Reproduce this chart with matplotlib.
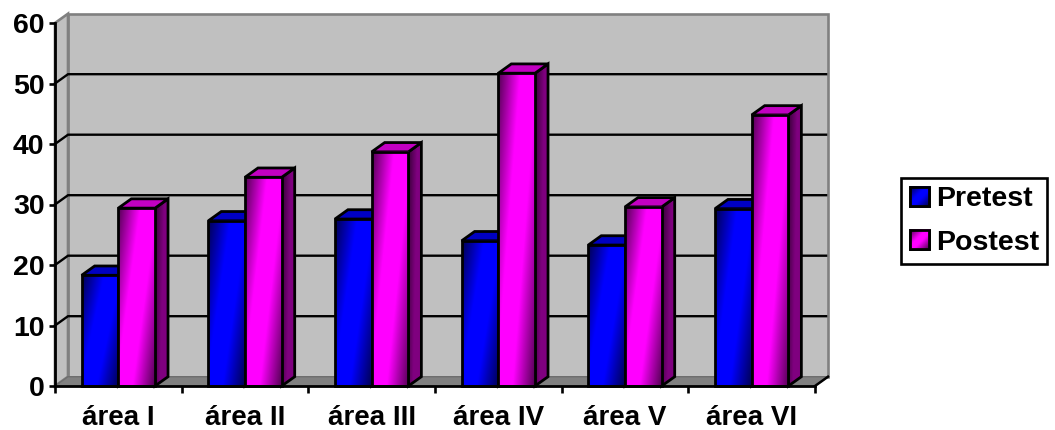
import numpy as np
import matplotlib
matplotlib.use("Agg")
import matplotlib.pyplot as plt
from matplotlib.patches import Polygon, Patch

categories = ["área I", "área II", "área III", "área IV", "área V", "área VI"]
pretest = [18.3, 27.3, 27.6, 24.0, 23.3, 29.3]
postest = [29.4, 34.5, 38.7, 51.7, 29.6, 44.8]
y_ticks = [0, 10, 20, 30, 40, 50, 60]
series_names = ["Pretest", "Postest"]

BLUE = np.array([0, 0, 255]) / 255
MAGENTA = np.array([255, 0, 255]) / 255
plt.rcParams["font.family"] = ["Liberation Sans", "DejaVu Sans"]

W, H = 1055, 430
fig = plt.figure(figsize=(W / 100, H / 100), dpi=100, facecolor="white")
ax = fig.add_axes([55 / W, (H - 386) / H, 760 / W, 363 / H])
ax.set_xlim(0, 6)
ax.set_ylim(0, 60)

DX = 13 / (760 / 6)   # depth in x units
DY = 9.3 / (363 / 60)  # depth in y units
HALF = 36.7 / (760 / 6)
GRAY = "#808080"
WALL = "#c0c0c0"
OUTLINE = 2.0


def front_rgb(base, nx=40, ny=60, lo=0.33):
    u, v = np.meshgrid(np.linspace(0, 1, nx), np.linspace(0, 1, ny))
    s = 0.6 * u + 0.4 * v
    k = np.clip(np.minimum(s / 0.36, (1 - s) / 0.36), 0, 1)
    k = lo + (1 - lo) * k
    return k[..., None] * base


def side_rgb(base, nx=16, ny=40):
    u, v = np.meshgrid(np.linspace(0, 1, nx), np.linspace(0, 1, ny))
    s = np.clip(0.75 * u + 0.25 * v, 0, 1) / 0.55
    k = 0.22 + (0.5 - 0.22) * np.clip(s, 0, 1)
    return k[..., None] * base


def draw_bar(l, r, top, base, z):
    ec = dict(edgecolor="black", linewidth=OUTLINE, joinstyle="miter", clip_on=False)
    # side face
    side = [(r, 0), (r + DX, DY), (r + DX, top + DY), (r, top)]
    poly = Polygon(side, closed=True, facecolor="none", zorder=z + 0.2, **ec)
    ax.add_patch(poly)
    im = ax.imshow(side_rgb(base), extent=[r, r + DX, 0, top + DY], origin="upper",
                   aspect="auto", interpolation="bilinear", zorder=z + 0.1)
    im.set_clip_path(Polygon(side, closed=True, transform=ax.transData))
    # top face
    ax.add_patch(Polygon([(l, top), (l + DX, top + DY), (r + DX, top + DY), (r, top)],
                         closed=True, facecolor=base * 0.76, zorder=z + 0.2, **ec))
    # front face
    ax.imshow(front_rgb(base), extent=[l, r, 0, top], origin="upper", aspect="auto",
              interpolation="bilinear", zorder=z + 0.3, clip_on=False)
    ax.add_patch(Polygon([(l, 0), (l, top), (r, top), (r, 0)], closed=True,
                         facecolor="none", zorder=z + 0.4, **ec))


# walls and floor
ax.add_patch(Polygon([(DX, DY), (DX, 60 + DY), (6 + DX, 60 + DY), (6 + DX, DY)],
                     closed=True, facecolor=WALL, edgecolor=GRAY, linewidth=1.9,
                     joinstyle="miter", clip_on=False, zorder=1))
ax.add_patch(Polygon([(0, 0), (0, 60), (DX, 60 + DY), (DX, DY)], closed=True,
                     facecolor=WALL, edgecolor=GRAY, linewidth=1.9,
                     joinstyle="miter", clip_on=False, zorder=1.1))
ax.add_patch(Polygon([(0, 0), (DX, DY), (6 + DX, DY), (6, 0)], closed=True,
                     facecolor=GRAY, edgecolor="#6e6e6e", linewidth=1.0,
                     clip_on=False, zorder=1.2))
ax.plot([6, 6 + DX], [0, DY], color="black", lw=1.8, clip_on=False, zorder=1.3)

# gridlines on the walls
for t in y_ticks[1:-1]:
    ax.plot([0, DX, 6 + DX - 0.015], [t, t + DY, t + DY], color="black", lw=1.7,
            clip_on=False, zorder=1.5, solid_joinstyle="miter")

# bars
z = 2
for i, (a, b) in enumerate(zip(pretest, postest)):
    c = i + 0.5
    draw_bar(c - HALF, c, a, BLUE, z)
    draw_bar(c, c + HALF, b, MAGENTA, z + 1)
    z += 2

ax.set_xlim(0, 6)
ax.set_ylim(0, 60)

# axes
ax.set_facecolor("none")
for s in ("top", "right"):
    ax.spines[s].set_visible(False)
for s in ("left", "bottom"):
    ax.spines[s].set_linewidth(2.0)
    ax.spines[s].set_zorder(30)
ax.set_yticks(y_ticks)
ax.set_yticklabels([str(t) for t in y_ticks], fontsize=20.5, fontweight="bold")
ax.tick_params(axis="y", length=4.5, width=1.9, pad=3)
ax.set_xticks(np.arange(7))
ax.set_xticklabels([])
ax.tick_params(axis="x", which="major", length=5, width=1.9)
ax.set_xticks(np.arange(6) + 0.5, minor=True)
ax.set_xticklabels(categories, minor=True, fontsize=20, fontweight="bold")
ax.tick_params(axis="x", which="minor", length=0, pad=14)

# legend
handles = [Patch(facecolor=BLUE, edgecolor="black", linewidth=OUTLINE),
           Patch(facecolor=MAGENTA, edgecolor="black", linewidth=OUTLINE)]
leg = ax.legend(handles, series_names, loc="center left",
                bbox_to_anchor=(901 / W, (H - 221) / H), bbox_transform=fig.transFigure,
                frameon=True, fancybox=False, edgecolor="black", framealpha=1,
                prop=dict(size=20.5, weight="bold"), handlelength=0.68, handleheight=0.68,
                handletextpad=0.24, labelspacing=0.6, borderpad=0.3, borderaxespad=0)
leg.get_frame().set_linewidth(1.9)

# gradient on legend swatches
fig.canvas.draw()
inv = ax.transData.inverted()
for h, base in zip(leg.legend_handles, (BLUE, MAGENTA)):
    bb = h.get_window_extent()
    (x0, y0), (x1, y1) = inv.transform([(bb.x0, bb.y0), (bb.x1, bb.y1)])
    u, v = np.meshgrid(np.linspace(0, 1, 12), np.linspace(0, 1, 12))
    s = 0.5 * u + 0.5 * v
    k = np.clip(np.minimum(s / 0.4, (1 - s) / 0.4), 0, 1)
    rgb = (0.33 + 0.67 * k)[..., None] * base
    ax.imshow(rgb, extent=[x0, x1, y0, y1], origin="upper", aspect="auto",
              interpolation="bilinear", zorder=40, clip_on=False)
    ax.add_patch(Polygon([(x0, y0), (x0, y1), (x1, y1), (x1, y0)], closed=True,
                         facecolor="none", edgecolor="black", linewidth=OUTLINE,
                         clip_on=False, zorder=41))
ax.set_xlim(0, 6)
ax.set_ylim(0, 60)

fig.savefig("out.png", dpi=100, facecolor="white")
